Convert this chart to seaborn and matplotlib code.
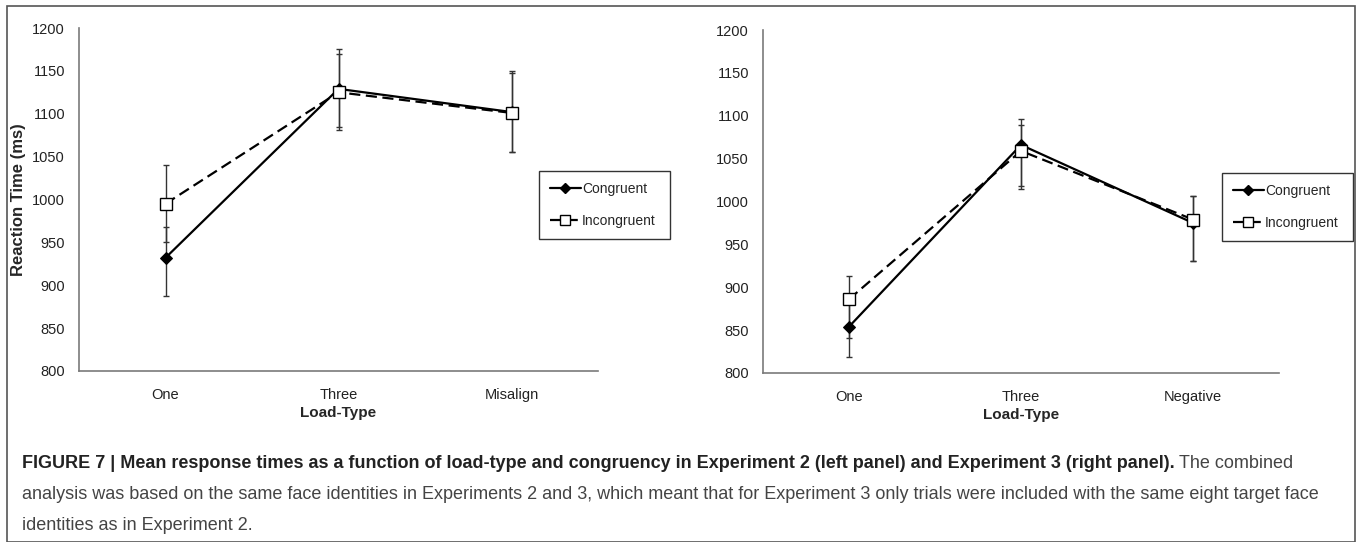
import pandas as pd
import numpy as np
import matplotlib
matplotlib.use('Agg')
import matplotlib.pyplot as plt
import seaborn as sns
from matplotlib.lines import Line2D
from matplotlib.patches import Rectangle

# data (ms)
exp2_types = ['One', 'Three', 'Misalign']
exp2_congruent = [932, 1129, 1102]
exp2_congruent_lo = [45, 44, 47]
exp2_congruent_hi = [36, 47, 48]
exp2_incongruent = [995, 1125, 1101]
exp2_incongruent_lo = [45, 44, 46]
exp2_incongruent_hi = [45, 45, 46]

exp3_types = ['One', 'Three', 'Negative']
exp3_congruent = [854, 1066, 975]
exp3_congruent_lo = [35, 48, 44]
exp3_congruent_hi = [35, 30, 31]
exp3_incongruent = [886, 1059, 979]
exp3_incongruent_lo = [45, 44, 48]
exp3_incongruent_hi = [27, 30, 27]

conditions = ['Congruent', 'Incongruent']
y_ticks = [800, 850, 900, 950, 1000, 1050, 1100, 1150, 1200]

sns.set_style('white')
plt.rcParams['font.family'] = ['Liberation Sans', 'DejaVu Sans']

W, H = 1357, 542
fig = plt.figure(figsize=(W / 100, H / 100), dpi=100)

spine_col = '#7a7a7a'


def make_df(types, cong, incong):
    rows = []
    for i, t in enumerate(types):
        rows.append({'pos': i, 'type': t, 'cond': 'Congruent', 'rt': cong[i]})
        rows.append({'pos': i, 'type': t, 'cond': 'Incongruent', 'rt': incong[i]})
    return pd.DataFrame(rows)


def draw_panel(ax, types, cong, cong_lo, cong_hi, incong, incong_lo, incong_hi):
    df = make_df(types, cong, incong)
    pos = np.arange(len(types))
    # error bars first so markers sit on top
    ax.errorbar(pos, cong, yerr=[cong_lo, cong_hi], fmt='none', ecolor='#333333',
                elinewidth=1, capsize=2.5, capthick=1, zorder=1)
    ax.errorbar(pos, incong, yerr=[incong_lo, incong_hi], fmt='none', ecolor='#333333',
                elinewidth=1, capsize=2.5, capthick=1, zorder=1)
    sns.lineplot(data=df, x='pos', y='rt', hue='cond', style='cond',
                 hue_order=conditions, style_order=conditions,
                 palette=['black', 'black'],
                 markers={'Congruent': 'D', 'Incongruent': 's'},
                 dashes={'Congruent': '', 'Incongruent': (5, 2.5)},
                 linewidth=1.6, markersize=7, legend=False, ax=ax, zorder=3)
    for ln in ax.get_lines():
        if ln.get_marker() == 's':
            ln.set_markerfacecolor('white')
            ln.set_markeredgecolor('black')
            ln.set_markersize(9)
            ln.set_markeredgewidth(1)
            ln.set_zorder(4)
        elif ln.get_marker() == 'D':
            ln.set_markerfacecolor('black')
            ln.set_markeredgecolor('black')
            ln.set_markersize(6.5)

    ax.set_xlim(-0.5, len(types) - 0.5)
    ax.set_ylim(800, 1200)
    ax.set_yticks(y_ticks)
    ax.set_yticklabels([str(v) for v in y_ticks], fontsize=10.5, color='#222222')
    ax.set_xticks(np.arange(len(types) + 1) - 0.5)
    ax.set_xticklabels([])
    ax.set_xticks(pos, minor=True)
    ax.set_xticklabels(types, minor=True, fontsize=10.5, color='#222222')
    ax.tick_params(axis='x', which='major', direction='out', length=5, width=1, color=spine_col)
    ax.tick_params(axis='x', which='minor', length=0, pad=12)
    ax.tick_params(axis='y', direction='out', length=4, width=1, color=spine_col, pad=6)
    for s in ['top', 'right']:
        ax.spines[s].set_visible(False)
    for s in ['left', 'bottom']:
        ax.spines[s].set_color(spine_col)
        ax.spines[s].set_linewidth(1.2)
    ax.set_xlabel('Load-Type', fontsize=11, fontweight='bold', labelpad=3)
    ax.set_ylabel('')


ax1 = fig.add_axes([79 / W, 1 - 371 / H, 519 / W, 343 / H])
draw_panel(ax1, exp2_types, exp2_congruent, exp2_congruent_lo, exp2_congruent_hi,
           exp2_incongruent, exp2_incongruent_lo, exp2_incongruent_hi)
ax1.set_ylabel('Reaction Time (ms)', fontsize=12, fontweight='bold')
ax1.yaxis.set_label_coords((26 - 79) / 519, 0.5)

ax2 = fig.add_axes([763 / W, 1 - 373 / H, 516 / W, 343 / H])
draw_panel(ax2, exp3_types, exp3_congruent, exp3_congruent_lo, exp3_congruent_hi,
           exp3_incongruent, exp3_incongruent_lo, exp3_incongruent_hi)

handles = [
    Line2D([], [], color='black', lw=1.6, marker='D', markersize=5,
           markerfacecolor='black'),
    Line2D([], [], color='black', lw=1.6, ls=(0, (5, 2.5)), marker='s', markersize=7,
           markerfacecolor='white', markeredgecolor='black'),
]
for ax, (lx, ly, lw_, lh) in [(ax1, (539, 171, 131, 68)), (ax2, (1222, 173, 131, 67))]:
    leg = ax.legend(handles, conditions, loc='upper left',
                    bbox_to_anchor=(lx / W, 1 - (ly + lh) / H, lw_ / W, lh / H),
                    bbox_transform=fig.transFigure, mode='expand',
                    frameon=True, fancybox=False, framealpha=1, edgecolor='#333333',
                    fontsize=10, handlelength=2.2, handletextpad=0.1,
                    labelspacing=1.3, borderpad=0.8, borderaxespad=0)
    leg.get_frame().set_linewidth(1)

# outer frame
fig.patches.append(Rectangle((7 / W, 0), (1355 - 7) / W, 1 - 6 / H, transform=fig.transFigure,
                             fill=False, edgecolor='#555555', lw=1.2))

# caption
cap_x = 22 / W
cap_size = 13
bold_part = ('FIGURE 7 | Mean response times as a function of load-type and congruency in '
             'Experiment 2 (left panel) and Experiment 3 (right panel).')
t1 = fig.text(cap_x, 1 - 468 / H, bold_part, fontsize=cap_size, fontweight='bold',
              color='#222222', va='baseline')
fig.canvas.draw()
bb = t1.get_window_extent()
fig.text(bb.x1 / W + 4 / W, 1 - 468 / H, 'The combined', fontsize=cap_size,
         color='#444444', va='baseline')
fig.text(cap_x, 1 - 499 / H,
         'analysis was based on the same face identities in Experiments 2 and 3, which meant '
         'that for Experiment 3 only trials were included with the same eight target face',
         fontsize=cap_size, color='#444444', va='baseline')
fig.text(cap_x, 1 - 530 / H, 'identities as in Experiment 2.', fontsize=cap_size,
         color='#444444', va='baseline')

fig.savefig('out.png', dpi=100)
